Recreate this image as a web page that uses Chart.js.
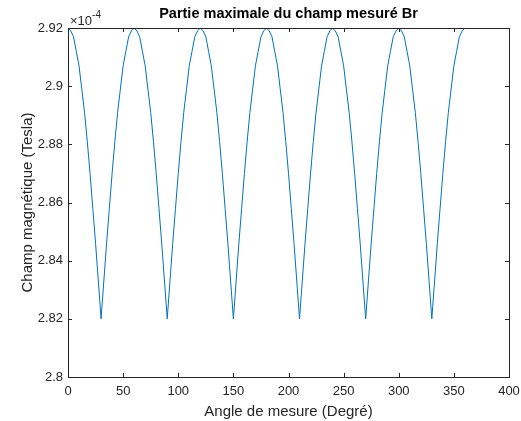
<!DOCTYPE html>
<html>
<head>
<meta charset="utf-8">
<script src="https://cdn.jsdelivr.net/npm/chart.js@4"></script>
<style>
  html, body { margin: 0; padding: 0; background: #fff; }
  #wrap { width: 521px; height: 421px; }
</style>
</head>
<body>
<div id="wrap"><canvas id="chart" width="521" height="421"></canvas></div>
<script>
const angles = [
  0, 2.5, 5, 7.5, 10, 12.5, 15, 17.5, 20, 22.5, 25, 27.5, 30, 32.5, 35, 37.5, 40, 42.5, 45, 47.5, 50, 52.5, 55, 57.5,
  60, 62.5, 65, 67.5, 70, 72.5, 75, 77.5, 80, 82.5, 85, 87.5, 90, 92.5, 95, 97.5, 100, 102.5, 105, 107.5, 110, 112.5, 115, 117.5,
  120, 122.5, 125, 127.5, 130, 132.5, 135, 137.5, 140, 142.5, 145, 147.5, 150, 152.5, 155, 157.5, 160, 162.5, 165, 167.5, 170, 172.5, 175, 177.5,
  180, 182.5, 185, 187.5, 190, 192.5, 195, 197.5, 200, 202.5, 205, 207.5, 210, 212.5, 215, 217.5, 220, 222.5, 225, 227.5, 230, 232.5, 235, 237.5,
  240, 242.5, 245, 247.5, 250, 252.5, 255, 257.5, 260, 262.5, 265, 267.5, 270, 272.5, 275, 277.5, 280, 282.5, 285, 287.5, 290, 292.5, 295, 297.5,
  300, 302.5, 305, 307.5, 310, 312.5, 315, 317.5, 320, 322.5, 325, 327.5, 330, 332.5, 335, 337.5, 340, 342.5, 345, 347.5, 350, 352.5, 355, 357.5,
  360
];
const champ = [
  2.920, 2.919, 2.917, 2.912, 2.907, 2.899, 2.891, 2.881, 2.870, 2.858, 2.846, 2.833, 2.820, 2.833, 2.846, 2.858, 2.870, 2.881, 2.891, 2.899, 2.907, 2.912, 2.917, 2.919,
  2.920, 2.919, 2.917, 2.912, 2.907, 2.899, 2.891, 2.881, 2.870, 2.858, 2.846, 2.833, 2.820, 2.833, 2.846, 2.858, 2.870, 2.881, 2.891, 2.899, 2.907, 2.912, 2.917, 2.919,
  2.920, 2.919, 2.917, 2.912, 2.907, 2.899, 2.891, 2.881, 2.870, 2.858, 2.846, 2.833, 2.820, 2.833, 2.846, 2.858, 2.870, 2.881, 2.891, 2.899, 2.907, 2.912, 2.917, 2.919,
  2.920, 2.919, 2.917, 2.912, 2.907, 2.899, 2.891, 2.881, 2.870, 2.858, 2.846, 2.833, 2.820, 2.833, 2.846, 2.858, 2.870, 2.881, 2.891, 2.899, 2.907, 2.912, 2.917, 2.919,
  2.920, 2.919, 2.917, 2.912, 2.907, 2.899, 2.891, 2.881, 2.870, 2.858, 2.846, 2.833, 2.820, 2.833, 2.846, 2.858, 2.870, 2.881, 2.891, 2.899, 2.907, 2.912, 2.917, 2.919,
  2.920, 2.919, 2.917, 2.912, 2.907, 2.899, 2.891, 2.881, 2.870, 2.858, 2.846, 2.833, 2.820, 2.833, 2.846, 2.858, 2.870, 2.881, 2.891, 2.899, 2.907, 2.912, 2.917, 2.919,
  2.920
];
const xTicks = [0, 50, 100, 150, 200, 250, 300, 350, 400];
const yTicks = [2.8, 2.82, 2.84, 2.86, 2.88, 2.9, 2.92];
const yTickLabels = ['2.8', '2.82', '2.84', '2.86', '2.88', '2.9', '2.92'];
const titleText = 'Partie maximale du champ mesuré Br';

const axisColor = '#262626';
const fontFam = 'Liberation Sans, Arial, sans-serif';
const tickFont = { family: fontFam, size: 13 };

// MATLAB style box with inward ticks, title over the axes, exponent label
const matlabBox = {
  id: 'matlabBox',
  afterDraw(chart) {
    const { ctx, chartArea: a, scales } = chart;
    ctx.save();
    ctx.strokeStyle = axisColor;
    ctx.lineWidth = 1;
    ctx.strokeRect(Math.round(a.left) + 0.5, Math.round(a.top) + 0.5,
      Math.round(a.right - a.left), Math.round(a.bottom - a.top));
    const len = 4;
    ctx.beginPath();
    xTicks.forEach(v => {
      const x = Math.round(scales.x.getPixelForValue(v)) + 0.5;
      ctx.moveTo(x, a.bottom); ctx.lineTo(x, a.bottom - len);
      ctx.moveTo(x, a.top); ctx.lineTo(x, a.top + len);
    });
    yTicks.forEach(v => {
      const y = Math.round(scales.y.getPixelForValue(v)) + 0.5;
      ctx.moveTo(a.left, y); ctx.lineTo(a.left + len, y);
      ctx.moveTo(a.right, y); ctx.lineTo(a.right - len, y);
    });
    ctx.stroke();

    // title centred on the axes
    ctx.fillStyle = '#000';
    ctx.font = 'bold 14.5px ' + fontFam;
    ctx.textAlign = 'center';
    ctx.textBaseline = 'middle';
    ctx.fillText(titleText, (a.left + a.right) / 2, 14);

    // exponent
    ctx.fillStyle = axisColor;
    ctx.textAlign = 'left';
    ctx.textBaseline = 'alphabetic';
    ctx.font = '13px ' + fontFam;
    ctx.fillText('\u00d710', a.left + 2, a.top - 3);
    const w = ctx.measureText('\u00d710').width;
    ctx.font = '10px ' + fontFam;
    ctx.fillText('-4', a.left + 2 + w, a.top - 10);
    ctx.restore();
  }
};

new Chart(document.getElementById('chart'), {
  type: 'line',
  data: {
    labels: angles,
    datasets: [{
      data: angles.map((a, i) => ({ x: a, y: champ[i] })),
      borderColor: '#0072BD',
      borderWidth: 1,
      pointRadius: 0,
      fill: false,
      tension: 0
    }]
  },
  options: {
    responsive: false,
    animation: false,
    layout: { padding: { left: 0, right: 12, top: 28, bottom: 0 } },
    plugins: {
      legend: { display: false },
      tooltip: { enabled: false },
      title: { display: false }
    },
    scales: {
      x: {
        type: 'linear',
        min: 0,
        max: 400,
        afterBuildTicks: s => { s.ticks = xTicks.map(v => ({ value: v })); },
        afterFit: s => { s.height = 44; s.paddingLeft = 0; s.paddingRight = 0; },
        grid: { display: false, drawTicks: false },
        border: { display: false },
        ticks: { color: axisColor, font: tickFont, padding: 7, maxRotation: 0 },
        title: {
          display: true,
          text: 'Angle de mesure (Degré)',
          color: axisColor,
          font: { family: fontFam, size: 15 },
          padding: { top: 2, bottom: 0 }
        }
      },
      y: {
        type: 'linear',
        min: 2.8,
        max: 2.92,
        afterBuildTicks: s => { s.ticks = yTicks.map(v => ({ value: v })); },
        afterFit: s => { s.width = 68; s.paddingTop = 0; s.paddingBottom = 0; },
        grid: { display: false, drawTicks: false },
        border: { display: false },
        ticks: {
          color: axisColor,
          font: tickFont,
          padding: 5,
          callback: (v) => yTickLabels[yTicks.findIndex(t => Math.abs(t - v) < 1e-6)]
        },
        title: {
          display: true,
          text: 'Champ magnétique (Tesla)',
          color: axisColor,
          font: { family: fontFam, size: 15 },
          padding: { top: 19, bottom: 0 }
        }
      }
    }
  },
  plugins: [matlabBox]
});
</script>
</body>
</html>
